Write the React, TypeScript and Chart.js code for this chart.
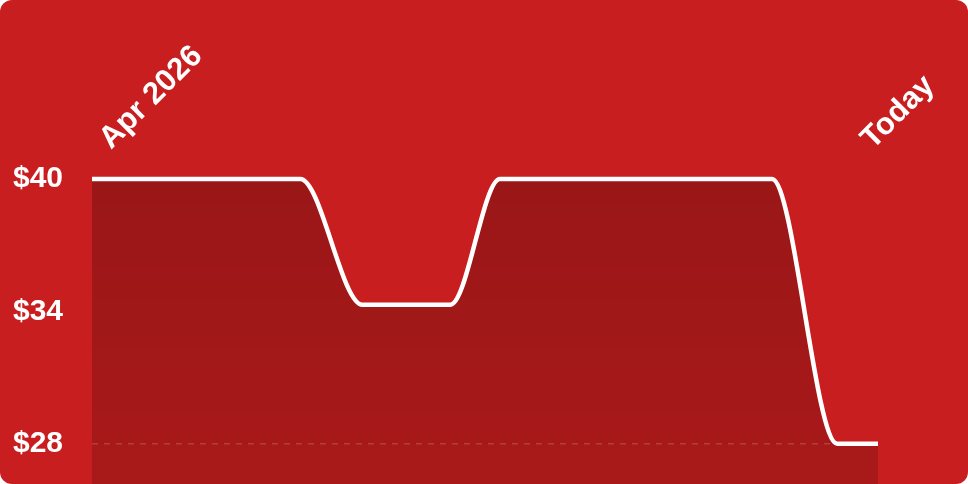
import { useEffect, useRef } from "react";
import { Chart, registerables } from "chart.js";

Chart.register(...registerables);

// Days since the start of the period (x) and price (y) at each change point
const days = [0, 26.5, 34.4, 45.6, 51.9, 86.5, 94.8, 100];
const prices = [40, 40, 34.3, 34.3, 40, 40, 28, 28];

// Top axis labels and the day they are anchored at
const xLabels = ["Apr 2026", "Today"];
const xLabelDays = [5.0, 101.9];

// Price ticks on the left axis (min, mid, max)
const priceTicks = [28, 34, 40];
const lowestPrice = 28;

const FONT = "'Liberation Sans', Arial, Helvetica, sans-serif";

export default function App() {
  const canvasRef = useRef<HTMLCanvasElement | null>(null);

  useEffect(() => {
    document.body.style.margin = "0";
    const canvas = canvasRef.current;
    if (!canvas) return;
    const chart = new Chart(canvas, {
      type: "line",
      data: {
        datasets: [
          {
            data: days.map((d, i) => ({ x: d, y: prices[i] })),
            borderColor: "#ffffff",
            borderWidth: 4.5,
            pointRadius: 0,
            pointHoverRadius: 0,
            cubicInterpolationMode: "monotone",
            fill: "start",
            clip: false as any,
            backgroundColor: (ctx: any) => {
              const a = ctx.chart.chartArea;
              if (!a) return "rgba(0,0,0,0.2)";
              const g = ctx.chart.ctx.createLinearGradient(0, a.top, 0, a.bottom);
              g.addColorStop(0, "rgba(0,0,0,0.23)");
              g.addColorStop(1, "rgba(0,0,0,0.155)");
              return g;
            },
          },
        ],
      },
      options: {
        animation: false,
        responsive: true,
        maintainAspectRatio: false,
        layout: { padding: { left: 13, right: 90, top: 0, bottom: 0 } },
        plugins: { legend: { display: false }, tooltip: { enabled: false } },
        scales: {
          x: {
            type: "linear",
            position: "top",
            min: 0,
            max: 100,
            afterBuildTicks: (scale: any) => {
              scale.ticks = xLabelDays.map((v) => ({ value: v }));
            },
            afterFit: (scale: any) => {
              scale.height = 179;
              scale.paddingLeft = 0;
              scale.paddingRight = 0;
            },
            ticks: {
              callback: (_v: any, i: number) => xLabels[i],
              minRotation: 45,
              maxRotation: 45,
              padding: 22,
              color: "#ffffff",
              font: { family: FONT, size: 31, weight: "bold" },
            },
            grid: { display: false, drawTicks: false },
            border: { display: false },
          },
          y: {
            type: "linear",
            min: 26.17,
            max: 40,
            afterBuildTicks: (scale: any) => {
              scale.ticks = priceTicks.map((v) => ({ value: v }));
            },
            afterFit: (scale: any) => {
              scale.width = 79;
              scale.paddingTop = 0;
              scale.paddingBottom = 0;
            },
            ticks: {
              callback: (v: any) => "$" + v,
              padding: 29,
              color: "#ffffff",
              font: { family: FONT, size: 30, weight: "bold" },
            },
            grid: {
              drawTicks: false,
              color: (ctx: any) =>
                ctx.tick && ctx.tick.value === lowestPrice ? "rgba(255,255,255,0.2)" : "rgba(0,0,0,0)",
              lineWidth: 1.5,
            },
            border: { display: false, dash: [6, 6] },
          },
        },
      },
    });
    return () => chart.destroy();
  }, []);

  return (
    <div
      style={{
        position: "fixed",
        left: 0,
        top: 0,
        width: 968,
        height: 484,
        background: "#c91e1f",
        borderRadius: 12,
        overflow: "hidden",
      }}
    >
      <canvas ref={canvasRef} />
    </div>
  );
}
